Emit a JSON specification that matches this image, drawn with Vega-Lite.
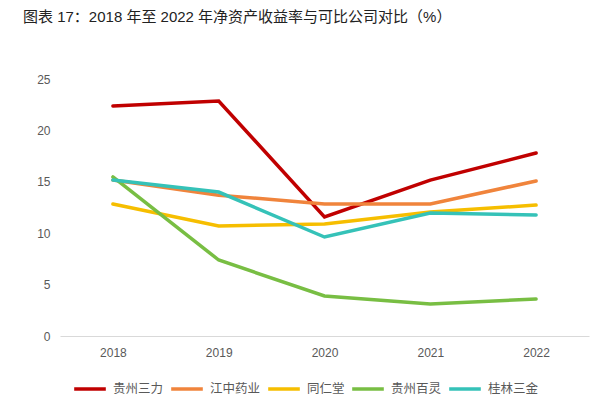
{
  "$schema": "https://vega.github.io/schema/vega-lite/v6.json",
  "autosize": {"type": "none"},
  "padding": {"left": 60, "top": 79, "right": 11, "bottom": 84},
  "width": 529,
  "height": 257,
  "background": "white",
  "title": {
    "text": "图表 17：2018 年至 2022 年净资产收益率与可比公司对比（%）",
    "anchor": "start",
    "frame": "group",
    "dx": -37,
    "offset": 48,
    "font": "Liberation Sans, Noto Sans CJK SC",
    "fontSize": 15,
    "fontWeight": "normal",
    "color": "#222222"
  },
  "config": {
    "view": {"stroke": null},
    "font": "Liberation Sans, Noto Sans CJK SC"
  },
  "data": {
    "values": [
      {"year": "2018", "company": "贵州三力", "roe": 22.37},
      {"year": "2019", "company": "贵州三力", "roe": 22.86},
      {"year": "2020", "company": "贵州三力", "roe": 11.58},
      {"year": "2021", "company": "贵州三力", "roe": 15.17},
      {"year": "2022", "company": "贵州三力", "roe": 17.8},
      {"year": "2018", "company": "江中药业", "roe": 15.17},
      {"year": "2019", "company": "江中药业", "roe": 13.7},
      {"year": "2020", "company": "江中药业", "roe": 12.84},
      {"year": "2021", "company": "江中药业", "roe": 12.84},
      {"year": "2022", "company": "江中药业", "roe": 15.08},
      {"year": "2018", "company": "同仁堂", "roe": 12.84},
      {"year": "2019", "company": "同仁堂", "roe": 10.7},
      {"year": "2020", "company": "同仁堂", "roe": 10.9},
      {"year": "2021", "company": "同仁堂", "roe": 12.06},
      {"year": "2022", "company": "同仁堂", "roe": 12.74},
      {"year": "2018", "company": "贵州百灵", "roe": 15.47},
      {"year": "2019", "company": "贵州百灵", "roe": 7.39},
      {"year": "2020", "company": "贵州百灵", "roe": 3.89},
      {"year": "2021", "company": "贵州百灵", "roe": 3.11},
      {"year": "2022", "company": "贵州百灵", "roe": 3.6},
      {"year": "2018", "company": "桂林三金", "roe": 15.17},
      {"year": "2019", "company": "桂林三金", "roe": 14.0},
      {"year": "2020", "company": "桂林三金", "roe": 9.63},
      {"year": "2021", "company": "桂林三金", "roe": 11.96},
      {"year": "2022", "company": "桂林三金", "roe": 11.77}
    ]
  },
  "mark": {"type": "line", "strokeWidth": 3.5, "strokeJoin": "miter", "strokeCap": "round"},
  "encoding": {
    "x": {
      "field": "year",
      "type": "ordinal",
      "scale": {"type": "point", "padding": 0.5},
      "axis": {
        "title": null,
        "labelAngle": 0,
        "labelFontSize": 12,
        "labelColor": "#595959",
        "labelPadding": 11,
        "ticks": false,
        "domainColor": "#d9d9d9",
        "domainWidth": 1,
        "grid": false
      }
    },
    "y": {
      "field": "roe",
      "type": "quantitative",
      "scale": {"domain": [0, 25]},
      "axis": {
        "title": null,
        "values": [0, 5, 10, 15, 20, 25],
        "labelFontSize": 12,
        "labelColor": "#595959",
        "labelPadding": 10,
        "ticks": false,
        "domain": false,
        "grid": false
      }
    },
    "color": {
      "field": "company",
      "type": "nominal",
      "scale": {
        "domain": ["贵州三力", "江中药业", "同仁堂", "贵州百灵", "桂林三金"],
        "range": ["#C00000", "#F0843C", "#F6BE00", "#78BE43", "#35C2B8"]
      },
      "legend": {
        "title": null,
        "orient": "none",
        "direction": "horizontal",
        "legendX": 12,
        "legendY": 292,
        "symbolType": "stroke",
        "symbolSize": 1000,
        "symbolStrokeWidth": 3.5,
        "labelFontSize": 12.5,
        "labelColor": "#595959",
        "labelOffset": 5,
        "columnPadding": 0
      }
    }
  }
}
